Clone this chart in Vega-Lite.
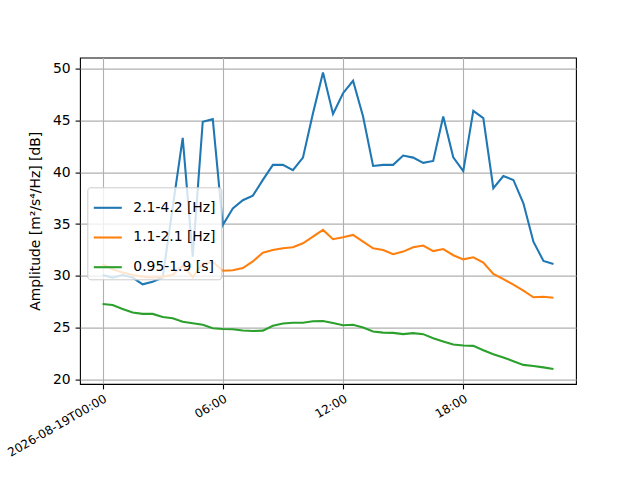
{
  "$schema": "https://vega.github.io/schema/vega-lite/v6.json",
  "width": 496,
  "height": 326.4,
  "autosize": {"type": "none"},
  "padding": {"left": 80, "top": 57.6, "right": 64, "bottom": 96},
  "background": "white",
  "data": {
    "values": [
      {"t": "2026-08-19T00:00:00Z", "s": "2.1-4.2 [Hz]", "v": 30.1},
      {"t": "2026-08-19T00:30:00Z", "s": "2.1-4.2 [Hz]", "v": 29.85},
      {"t": "2026-08-19T01:00:00Z", "s": "2.1-4.2 [Hz]", "v": 30.1},
      {"t": "2026-08-19T01:30:00Z", "s": "2.1-4.2 [Hz]", "v": 29.85},
      {"t": "2026-08-19T02:00:00Z", "s": "2.1-4.2 [Hz]", "v": 29.2},
      {"t": "2026-08-19T02:30:00Z", "s": "2.1-4.2 [Hz]", "v": 29.45},
      {"t": "2026-08-19T03:00:00Z", "s": "2.1-4.2 [Hz]", "v": 29.85},
      {"t": "2026-08-19T03:30:00Z", "s": "2.1-4.2 [Hz]", "v": 36.6},
      {"t": "2026-08-19T04:00:00Z", "s": "2.1-4.2 [Hz]", "v": 43.3},
      {"t": "2026-08-19T04:30:00Z", "s": "2.1-4.2 [Hz]", "v": 31.85},
      {"t": "2026-08-19T05:00:00Z", "s": "2.1-4.2 [Hz]", "v": 44.85},
      {"t": "2026-08-19T05:30:00Z", "s": "2.1-4.2 [Hz]", "v": 45.1},
      {"t": "2026-08-19T06:00:00Z", "s": "2.1-4.2 [Hz]", "v": 34.9},
      {"t": "2026-08-19T06:30:00Z", "s": "2.1-4.2 [Hz]", "v": 36.5},
      {"t": "2026-08-19T07:00:00Z", "s": "2.1-4.2 [Hz]", "v": 37.3},
      {"t": "2026-08-19T07:30:00Z", "s": "2.1-4.2 [Hz]", "v": 37.74},
      {"t": "2026-08-19T08:00:00Z", "s": "2.1-4.2 [Hz]", "v": 39.25},
      {"t": "2026-08-19T08:30:00Z", "s": "2.1-4.2 [Hz]", "v": 40.7},
      {"t": "2026-08-19T09:00:00Z", "s": "2.1-4.2 [Hz]", "v": 40.7},
      {"t": "2026-08-19T09:30:00Z", "s": "2.1-4.2 [Hz]", "v": 40.2},
      {"t": "2026-08-19T10:00:00Z", "s": "2.1-4.2 [Hz]", "v": 41.4},
      {"t": "2026-08-19T10:30:00Z", "s": "2.1-4.2 [Hz]", "v": 45.67},
      {"t": "2026-08-19T11:00:00Z", "s": "2.1-4.2 [Hz]", "v": 49.6},
      {"t": "2026-08-19T11:30:00Z", "s": "2.1-4.2 [Hz]", "v": 45.6},
      {"t": "2026-08-19T12:00:00Z", "s": "2.1-4.2 [Hz]", "v": 47.6},
      {"t": "2026-08-19T12:30:00Z", "s": "2.1-4.2 [Hz]", "v": 48.8},
      {"t": "2026-08-19T13:00:00Z", "s": "2.1-4.2 [Hz]", "v": 45.35},
      {"t": "2026-08-19T13:30:00Z", "s": "2.1-4.2 [Hz]", "v": 40.6},
      {"t": "2026-08-19T14:00:00Z", "s": "2.1-4.2 [Hz]", "v": 40.7},
      {"t": "2026-08-19T14:30:00Z", "s": "2.1-4.2 [Hz]", "v": 40.7},
      {"t": "2026-08-19T15:00:00Z", "s": "2.1-4.2 [Hz]", "v": 41.6},
      {"t": "2026-08-19T15:30:00Z", "s": "2.1-4.2 [Hz]", "v": 41.4},
      {"t": "2026-08-19T16:00:00Z", "s": "2.1-4.2 [Hz]", "v": 40.9},
      {"t": "2026-08-19T16:30:00Z", "s": "2.1-4.2 [Hz]", "v": 41.08},
      {"t": "2026-08-19T17:00:00Z", "s": "2.1-4.2 [Hz]", "v": 45.35},
      {"t": "2026-08-19T17:30:00Z", "s": "2.1-4.2 [Hz]", "v": 41.43},
      {"t": "2026-08-19T18:00:00Z", "s": "2.1-4.2 [Hz]", "v": 40.1},
      {"t": "2026-08-19T18:30:00Z", "s": "2.1-4.2 [Hz]", "v": 45.9},
      {"t": "2026-08-19T19:00:00Z", "s": "2.1-4.2 [Hz]", "v": 45.2},
      {"t": "2026-08-19T19:30:00Z", "s": "2.1-4.2 [Hz]", "v": 38.45},
      {"t": "2026-08-19T20:00:00Z", "s": "2.1-4.2 [Hz]", "v": 39.63},
      {"t": "2026-08-19T20:30:00Z", "s": "2.1-4.2 [Hz]", "v": 39.25},
      {"t": "2026-08-19T21:00:00Z", "s": "2.1-4.2 [Hz]", "v": 37.0},
      {"t": "2026-08-19T21:30:00Z", "s": "2.1-4.2 [Hz]", "v": 33.3},
      {"t": "2026-08-19T22:00:00Z", "s": "2.1-4.2 [Hz]", "v": 31.45},
      {"t": "2026-08-19T22:30:00Z", "s": "2.1-4.2 [Hz]", "v": 31.16},
      {"t": "2026-08-19T00:00:00Z", "s": "1.1-2.1 [Hz]", "v": 31.13},
      {"t": "2026-08-19T00:30:00Z", "s": "1.1-2.1 [Hz]", "v": 30.65},
      {"t": "2026-08-19T01:00:00Z", "s": "1.1-2.1 [Hz]", "v": 30.33},
      {"t": "2026-08-19T01:30:00Z", "s": "1.1-2.1 [Hz]", "v": 30.1},
      {"t": "2026-08-19T02:00:00Z", "s": "1.1-2.1 [Hz]", "v": 29.94},
      {"t": "2026-08-19T02:30:00Z", "s": "1.1-2.1 [Hz]", "v": 29.85},
      {"t": "2026-08-19T03:00:00Z", "s": "1.1-2.1 [Hz]", "v": 29.94},
      {"t": "2026-08-19T03:30:00Z", "s": "1.1-2.1 [Hz]", "v": 30.1},
      {"t": "2026-08-19T04:00:00Z", "s": "1.1-2.1 [Hz]", "v": 31.0},
      {"t": "2026-08-19T04:30:00Z", "s": "1.1-2.1 [Hz]", "v": 29.9},
      {"t": "2026-08-19T05:00:00Z", "s": "1.1-2.1 [Hz]", "v": 31.2},
      {"t": "2026-08-19T05:30:00Z", "s": "1.1-2.1 [Hz]", "v": 31.35},
      {"t": "2026-08-19T06:00:00Z", "s": "1.1-2.1 [Hz]", "v": 30.5},
      {"t": "2026-08-19T06:30:00Z", "s": "1.1-2.1 [Hz]", "v": 30.55},
      {"t": "2026-08-19T07:00:00Z", "s": "1.1-2.1 [Hz]", "v": 30.77},
      {"t": "2026-08-19T07:30:00Z", "s": "1.1-2.1 [Hz]", "v": 31.4},
      {"t": "2026-08-19T08:00:00Z", "s": "1.1-2.1 [Hz]", "v": 32.25},
      {"t": "2026-08-19T08:30:00Z", "s": "1.1-2.1 [Hz]", "v": 32.5},
      {"t": "2026-08-19T09:00:00Z", "s": "1.1-2.1 [Hz]", "v": 32.67},
      {"t": "2026-08-19T09:30:00Z", "s": "1.1-2.1 [Hz]", "v": 32.77},
      {"t": "2026-08-19T10:00:00Z", "s": "1.1-2.1 [Hz]", "v": 33.15},
      {"t": "2026-08-19T10:30:00Z", "s": "1.1-2.1 [Hz]", "v": 33.8},
      {"t": "2026-08-19T11:00:00Z", "s": "1.1-2.1 [Hz]", "v": 34.44},
      {"t": "2026-08-19T11:30:00Z", "s": "1.1-2.1 [Hz]", "v": 33.54},
      {"t": "2026-08-19T12:00:00Z", "s": "1.1-2.1 [Hz]", "v": 33.73},
      {"t": "2026-08-19T12:30:00Z", "s": "1.1-2.1 [Hz]", "v": 33.95},
      {"t": "2026-08-19T13:00:00Z", "s": "1.1-2.1 [Hz]", "v": 33.3},
      {"t": "2026-08-19T13:30:00Z", "s": "1.1-2.1 [Hz]", "v": 32.67},
      {"t": "2026-08-19T14:00:00Z", "s": "1.1-2.1 [Hz]", "v": 32.5},
      {"t": "2026-08-19T14:30:00Z", "s": "1.1-2.1 [Hz]", "v": 32.1},
      {"t": "2026-08-19T15:00:00Z", "s": "1.1-2.1 [Hz]", "v": 32.35},
      {"t": "2026-08-19T15:30:00Z", "s": "1.1-2.1 [Hz]", "v": 32.77},
      {"t": "2026-08-19T16:00:00Z", "s": "1.1-2.1 [Hz]", "v": 32.93},
      {"t": "2026-08-19T16:30:00Z", "s": "1.1-2.1 [Hz]", "v": 32.4},
      {"t": "2026-08-19T17:00:00Z", "s": "1.1-2.1 [Hz]", "v": 32.6},
      {"t": "2026-08-19T17:30:00Z", "s": "1.1-2.1 [Hz]", "v": 32.0},
      {"t": "2026-08-19T18:00:00Z", "s": "1.1-2.1 [Hz]", "v": 31.6},
      {"t": "2026-08-19T18:30:00Z", "s": "1.1-2.1 [Hz]", "v": 31.8},
      {"t": "2026-08-19T19:00:00Z", "s": "1.1-2.1 [Hz]", "v": 31.3},
      {"t": "2026-08-19T19:30:00Z", "s": "1.1-2.1 [Hz]", "v": 30.2},
      {"t": "2026-08-19T20:00:00Z", "s": "1.1-2.1 [Hz]", "v": 29.7},
      {"t": "2026-08-19T20:30:00Z", "s": "1.1-2.1 [Hz]", "v": 29.17},
      {"t": "2026-08-19T21:00:00Z", "s": "1.1-2.1 [Hz]", "v": 28.6},
      {"t": "2026-08-19T21:30:00Z", "s": "1.1-2.1 [Hz]", "v": 27.95},
      {"t": "2026-08-19T22:00:00Z", "s": "1.1-2.1 [Hz]", "v": 28.0},
      {"t": "2026-08-19T22:30:00Z", "s": "1.1-2.1 [Hz]", "v": 27.9},
      {"t": "2026-08-19T00:00:00Z", "s": "0.95-1.9 [s]", "v": 27.31},
      {"t": "2026-08-19T00:30:00Z", "s": "0.95-1.9 [s]", "v": 27.2},
      {"t": "2026-08-19T01:00:00Z", "s": "0.95-1.9 [s]", "v": 26.83},
      {"t": "2026-08-19T01:30:00Z", "s": "0.95-1.9 [s]", "v": 26.48},
      {"t": "2026-08-19T02:00:00Z", "s": "0.95-1.9 [s]", "v": 26.35},
      {"t": "2026-08-19T02:30:00Z", "s": "0.95-1.9 [s]", "v": 26.35},
      {"t": "2026-08-19T03:00:00Z", "s": "0.95-1.9 [s]", "v": 26.06},
      {"t": "2026-08-19T03:30:00Z", "s": "0.95-1.9 [s]", "v": 25.93},
      {"t": "2026-08-19T04:00:00Z", "s": "0.95-1.9 [s]", "v": 25.6},
      {"t": "2026-08-19T04:30:00Z", "s": "0.95-1.9 [s]", "v": 25.45},
      {"t": "2026-08-19T05:00:00Z", "s": "0.95-1.9 [s]", "v": 25.3},
      {"t": "2026-08-19T05:30:00Z", "s": "0.95-1.9 [s]", "v": 24.97},
      {"t": "2026-08-19T06:00:00Z", "s": "0.95-1.9 [s]", "v": 24.9},
      {"t": "2026-08-19T06:30:00Z", "s": "0.95-1.9 [s]", "v": 24.87},
      {"t": "2026-08-19T07:00:00Z", "s": "0.95-1.9 [s]", "v": 24.75},
      {"t": "2026-08-19T07:30:00Z", "s": "0.95-1.9 [s]", "v": 24.7},
      {"t": "2026-08-19T08:00:00Z", "s": "0.95-1.9 [s]", "v": 24.74},
      {"t": "2026-08-19T08:30:00Z", "s": "0.95-1.9 [s]", "v": 25.2},
      {"t": "2026-08-19T09:00:00Z", "s": "0.95-1.9 [s]", "v": 25.42},
      {"t": "2026-08-19T09:30:00Z", "s": "0.95-1.9 [s]", "v": 25.5},
      {"t": "2026-08-19T10:00:00Z", "s": "0.95-1.9 [s]", "v": 25.5},
      {"t": "2026-08-19T10:30:00Z", "s": "0.95-1.9 [s]", "v": 25.64},
      {"t": "2026-08-19T11:00:00Z", "s": "0.95-1.9 [s]", "v": 25.67},
      {"t": "2026-08-19T11:30:00Z", "s": "0.95-1.9 [s]", "v": 25.48},
      {"t": "2026-08-19T12:00:00Z", "s": "0.95-1.9 [s]", "v": 25.26},
      {"t": "2026-08-19T12:30:00Z", "s": "0.95-1.9 [s]", "v": 25.3},
      {"t": "2026-08-19T13:00:00Z", "s": "0.95-1.9 [s]", "v": 25.03},
      {"t": "2026-08-19T13:30:00Z", "s": "0.95-1.9 [s]", "v": 24.65},
      {"t": "2026-08-19T14:00:00Z", "s": "0.95-1.9 [s]", "v": 24.55},
      {"t": "2026-08-19T14:30:00Z", "s": "0.95-1.9 [s]", "v": 24.52},
      {"t": "2026-08-19T15:00:00Z", "s": "0.95-1.9 [s]", "v": 24.4},
      {"t": "2026-08-19T15:30:00Z", "s": "0.95-1.9 [s]", "v": 24.5},
      {"t": "2026-08-19T16:00:00Z", "s": "0.95-1.9 [s]", "v": 24.4},
      {"t": "2026-08-19T16:30:00Z", "s": "0.95-1.9 [s]", "v": 24.0},
      {"t": "2026-08-19T17:00:00Z", "s": "0.95-1.9 [s]", "v": 23.7},
      {"t": "2026-08-19T17:30:00Z", "s": "0.95-1.9 [s]", "v": 23.4},
      {"t": "2026-08-19T18:00:00Z", "s": "0.95-1.9 [s]", "v": 23.3},
      {"t": "2026-08-19T18:30:00Z", "s": "0.95-1.9 [s]", "v": 23.27},
      {"t": "2026-08-19T19:00:00Z", "s": "0.95-1.9 [s]", "v": 22.85},
      {"t": "2026-08-19T19:30:00Z", "s": "0.95-1.9 [s]", "v": 22.47},
      {"t": "2026-08-19T20:00:00Z", "s": "0.95-1.9 [s]", "v": 22.15},
      {"t": "2026-08-19T20:30:00Z", "s": "0.95-1.9 [s]", "v": 21.8},
      {"t": "2026-08-19T21:00:00Z", "s": "0.95-1.9 [s]", "v": 21.44},
      {"t": "2026-08-19T21:30:00Z", "s": "0.95-1.9 [s]", "v": 21.34},
      {"t": "2026-08-19T22:00:00Z", "s": "0.95-1.9 [s]", "v": 21.2},
      {"t": "2026-08-19T22:30:00Z", "s": "0.95-1.9 [s]", "v": 21.05}
    ]
  },
  "mark": {"type": "line", "strokeWidth": 2.08, "clip": true},
  "encoding": {
    "x": {
      "field": "t",
      "type": "temporal",
      "scale": {
        "type": "utc",
        "domain": [
          {"year": 2026, "month": 8, "date": 18, "hours": 22, "minutes": 52, "seconds": 30, "utc": true},
          {"year": 2026, "month": 8, "date": 19, "hours": 23, "minutes": 37, "seconds": 30, "utc": true}
        ],
        "nice": false
      },
      "axis": {
        "title": null,
        "values": [
          {"year": 2026, "month": 8, "date": 19, "hours": 0, "utc": true},
          {"year": 2026, "month": 8, "date": 19, "hours": 6, "utc": true},
          {"year": 2026, "month": 8, "date": 19, "hours": 12, "utc": true},
          {"year": 2026, "month": 8, "date": 19, "hours": 18, "utc": true}
        ],
        "labelExpr": "utchours(datum.value) == 0 ? utcFormat(datum.value, '%Y-%m-%dT%H:%M') : utcFormat(datum.value, '%H:%M')",
        "labelAngle": -30,
        "labelAlign": "right",
        "labelBaseline": "top",
        "labelFontSize": 12,
        "labelPadding": 4,
        "labelDx": -4,
        "labelBound": false,
        "labelOverlap": false,
        "labelFlush": false
      }
    },
    "y": {
      "field": "v",
      "type": "quantitative",
      "scale": {"domain": [19.6, 51.03], "nice": false, "zero": false},
      "axis": {
        "title": "Amplitude [m²/s⁴/Hz] [dB]",
        "values": [20, 25, 30, 35, 40, 45, 50],
        "titlePadding": 10
      }
    },
    "color": {
      "field": "s",
      "type": "nominal",
      "scale": {
        "domain": ["2.1-4.2 [Hz]", "1.1-2.1 [Hz]", "0.95-1.9 [s]"],
        "range": ["#1f77b4", "#ff7f0e", "#2ca02c"]
      },
      "legend": {"title": null}
    }
  },
  "config": {
    "font": "DejaVu Sans",
    "view": {"stroke": "#000000", "strokeWidth": 1.1},
    "axis": {
      "domain": false,
      "grid": true,
      "gridColor": "#b0b0b0",
      "gridWidth": 1.1,
      "ticks": true,
      "tickColor": "#000000",
      "tickSize": 4.9,
      "tickWidth": 1.1,
      "labelColor": "#000000",
      "labelFont": "DejaVu Sans",
      "labelFontSize": 13.9,
      "labelPadding": 4.9,
      "titleColor": "#000000",
      "titleFont": "DejaVu Sans",
      "titleFontSize": 13.9,
      "titleFontWeight": "normal"
    },
    "legend": {
      "orient": "none",
      "legendX": 7.3,
      "legendY": 129.7,
      "fillColor": "rgba(255,255,255,0.8)",
      "strokeColor": "#cccccc",
      "cornerRadius": 3,
      "padding": 5,
      "symbolType": "stroke",
      "symbolSize": 784,
      "symbolStrokeWidth": 2.08,
      "labelFont": "DejaVu Sans",
      "labelFontSize": 13.9,
      "labelColor": "#000000",
      "labelOffset": 10,
      "rowPadding": 6.7
    }
  }
}
